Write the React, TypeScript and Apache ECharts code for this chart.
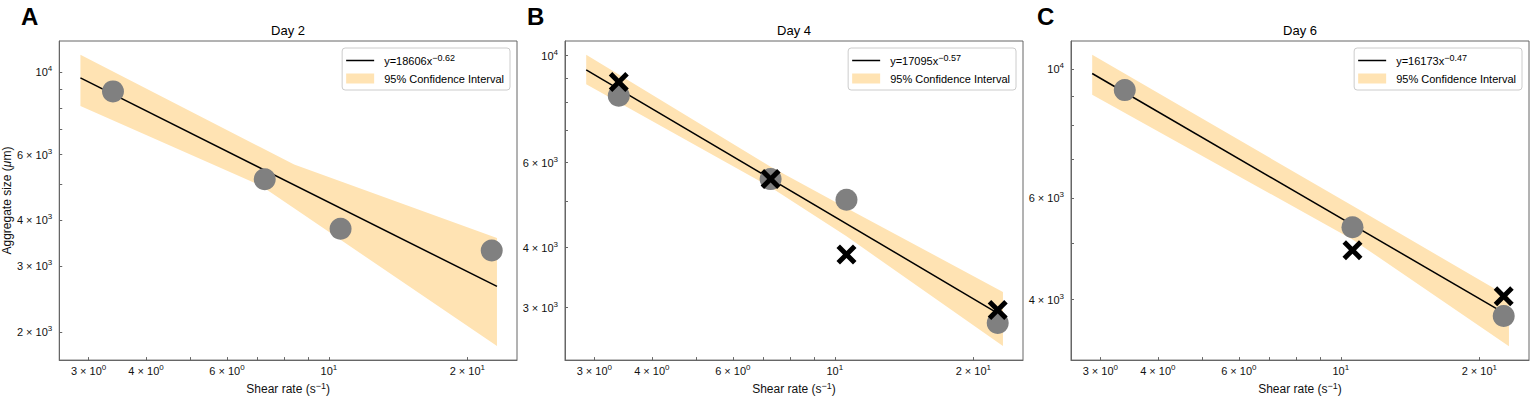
import React, { useEffect, useRef } from "react";
import * as echarts from "echarts";

// ---------- data ----------
const panelLetters = ["A", "B", "C"];
const panelTitles = ["Day 2", "Day 4", "Day 6"];
const fitCoefs = ["18606", "17095", "16173"];
const fitExps = ["−0.62", "−0.57", "−0.47"];
const bandName = "95% Confidence Interval";

// Day 2
const dotXA = [3.39, 7.25, 10.6, 22.6];
const dotYA = [8875, 5152, 3787, 3313];
const crossXA: number[] = [];
const crossYA: number[] = [];
const fitXA = [2.88, 23.2];
const fitYA = [9649, 2650];
const bandXA = [2.88, 7.1, 8.4, 23.2];
const bandUpA = [11137, 6276, 5645, 3577];
const bandLoA = [8102, 4950, 4302, 1832];

// Day 4
const dotXB = [3.39, 7.25, 10.6, 22.6];
const dotYB = [8262, 5546, 5026, 2788];
const crossXB = [3.39, 7.25, 10.6, 22.6];
const crossYB = [8825, 5546, 3870, 2968];
const fitXB = [2.88, 23.2];
const fitYB = [9350, 2880];
const bandXB = [2.88, 7.25, 10.6, 23.2];
const bandUpB = [10046, 5886, 4834, 3234];
const bandLoB = [8728, 5333, 4219, 2500];

// Day 6
const dotXC = [3.39, 10.6, 22.6];
const dotYC = [9211, 5335, 3747];
const crossXC = [10.6, 22.6];
const crossYC = [4870, 4052];
const fitXC = [2.88, 23.2];
const fitYC = [9840, 3750];
const bandXC = [2.88, 10.6, 23.2];
const bandUpC = [10604, 5812, 4041];
const bandLoC = [9045, 5084, 3323];

// axes
const xMin = 2.59;
const xMax = 25.65;
const xTickVals = [3, 4, 5, 6, 7, 8, 9, 10, 20];
const xLabelVals = [3, 4, 6, 10, 20];
const yMins = [1679, 2336, 3144];
const yMaxs = [12128, 10729, 11200];
const yTickVals = [
  [2000, 3000, 4000, 5000, 6000, 7000, 8000, 9000, 10000],
  [3000, 4000, 5000, 6000, 7000, 8000, 9000, 10000],
  [4000, 5000, 6000, 7000, 8000, 9000, 10000],
];
const yLabelVals = [
  [2000, 3000, 4000, 6000, 10000],
  [3000, 4000, 6000, 10000],
  [4000, 6000, 10000],
];

const panels = [
  { dx: dotXA, dy: dotYA, cx: crossXA, cy: crossYA, fx: fitXA, fy: fitYA, bx: bandXA, bu: bandUpA, bl: bandLoA },
  { dx: dotXB, dy: dotYB, cx: crossXB, cy: crossYB, fx: fitXB, fy: fitYB, bx: bandXB, bu: bandUpB, bl: bandLoB },
  { dx: dotXC, dy: dotYC, cx: crossXC, cy: crossYC, fx: fitXC, fy: fitYC, bx: bandXC, bu: bandUpC, bl: bandLoC },
];

// ---------- style ----------
const W = 1530;
const H = 400;
const gridLefts = [59, 565, 1071];
const gridW = 458;
const gridTop = 41;
const gridH = 325;
const FONT = "'Liberation Sans', Arial, Helvetica, sans-serif";
const bandColor = "#FFE3B3";
const frameColor = "#666666";
const crossPath =
  "path://M0,3.5L3.5,0L10,6.5L16.5,0L20,3.5L13.5,10L20,16.5L16.5,20L10,13.5L3.5,20L0,16.5L6.5,10Z";

function fmtTick(v: number): string {
  const e = Math.floor(Math.log10(v) + 1e-9);
  const m = Math.round(v / Math.pow(10, e));
  return m === 1 ? "{b|10}{s|" + e + "}" : "{b|" + m + " × 10}{s|" + e + "}";
}

const tickRich = {
  b: { fontSize: 11, fontFamily: FONT, color: "#111", lineHeight: 15 },
  s: { fontSize: 8, fontFamily: FONT, color: "#111", verticalAlign: "top", lineHeight: 8 },
};

const nameRich = {
  n: { fontSize: 12, fontFamily: FONT, color: "#111", lineHeight: 16 },
  s: { fontSize: 9, fontFamily: FONT, color: "#111", verticalAlign: "top", lineHeight: 9 },
  i: { fontSize: 12, fontFamily: FONT, color: "#111", fontStyle: "italic", lineHeight: 16 },
};

function buildOption() {
  const grid: any[] = [];
  const xAxis: any[] = [];
  const yAxis: any[] = [];
  const series: any[] = [];
  const legend: any[] = [];
  const title: any[] = [];
  const graphic: any[] = [];

  panels.forEach((p, i) => {
    const left = gridLefts[i];
    grid.push({
      left,
      top: gridTop,
      width: gridW,
      height: gridH,
      show: true,
      borderColor: frameColor,
      borderWidth: 1,
      backgroundColor: "transparent",
    });
    xAxis.push({
      type: "log",
      logBase: 10,
      gridIndex: i,
      min: xMin,
      max: xMax,
      axisLine: { show: true, lineStyle: { color: frameColor, width: 1 } },
      axisTick: {
        show: true,
        inside: true,
        length: 3,
        customValues: xTickVals,
        lineStyle: { color: frameColor },
      },
      axisLabel: {
        customValues: xLabelVals,
        formatter: fmtTick,
        margin: 3,
        rich: tickRich,
      },
      splitLine: { show: false },
      name: "{n|Shear rate (s}{s|−1}{n|)}",
      nameLocation: "middle",
      nameGap: 19,
      nameTextStyle: { fontSize: 12, color: "#111", fontFamily: FONT, rich: nameRich },
    });
    yAxis.push({
      type: "log",
      logBase: 10,
      gridIndex: i,
      min: yMins[i],
      max: yMaxs[i],
      axisLine: { show: true, lineStyle: { color: frameColor, width: 1 } },
      axisTick: {
        show: true,
        inside: true,
        length: 3,
        customValues: yTickVals[i],
        lineStyle: { color: frameColor },
      },
      axisLabel: {
        customValues: yLabelVals[i],
        formatter: fmtTick,
        margin: 7,
        rich: tickRich,
      },
      splitLine: { show: false },
      name: i === 0 ? "{n|Aggregate size (}{i|μ}{n|m)}" : "",
      nameLocation: "middle",
      nameGap: 38,
      nameTextStyle: { fontSize: 12, color: "#111", fontFamily: FONT, rich: nameRich },
    });

    const fitName = "y=" + fitCoefs[i] + "x" + fitExps[i];

    series.push({
      type: "custom",
      name: bandName,
      xAxisIndex: i,
      yAxisIndex: i,
      silent: true,
      z: 1,
      clip: true,
      itemStyle: { color: bandColor },
      encode: { x: 0, y: [1, 2] },
      data: p.bx.map((x, k) => [x, p.bu[k], p.bl[k]]),
      renderItem: (params: any, api: any) => {
        if (params.dataIndex !== 0) return null;
        const pts: number[][] = [];
        for (let k = 0; k < p.bx.length; k++) pts.push(api.coord([p.bx[k], p.bu[k]]));
        for (let k = p.bx.length - 1; k >= 0; k--) pts.push(api.coord([p.bx[k], p.bl[k]]));
        return {
          type: "polygon",
          shape: { points: pts },
          style: { fill: bandColor, stroke: "none" },
        };
      },
    });
    series.push({
      type: "line",
      name: fitName,
      xAxisIndex: i,
      yAxisIndex: i,
      z: 2,
      showSymbol: false,
      symbol: "none",
      silent: true,
      itemStyle: { color: "#000" },
      lineStyle: { color: "#000", width: 1.5 },
      data: p.fx.map((x, k) => [x, p.fy[k]]),
    });
    series.push({
      type: "scatter",
      name: "dots" + i,
      xAxisIndex: i,
      yAxisIndex: i,
      z: 3,
      symbol: "circle",
      symbolSize: 22,
      silent: true,
      itemStyle: { color: "#808080", opacity: 1 },
      data: p.dx.map((x, k) => [x, p.dy[k]]),
    });
    if (p.cx.length) {
      series.push({
        type: "scatter",
        name: "crosses" + i,
        xAxisIndex: i,
        yAxisIndex: i,
        z: 4,
        symbol: crossPath,
        symbolSize: 20,
        symbolKeepAspect: true,
        silent: true,
        itemStyle: { color: "#000", opacity: 1 },
        data: p.cx.map((x, k) => [x, p.cy[k]]),
      });
    }

    legend.push({
      orient: "vertical",
      right: W - (left + gridW - 7),
      top: 48,
      selectedMode: false,
      data: [
        { name: fitName, icon: "path://M0,0L28,0L28,1.5L0,1.5Z" },
        { name: bandName, icon: "rect" },
      ],
      itemWidth: 28,
      itemHeight: 10,
      itemGap: 7,
      padding: [5, 6, 6, 4],
      borderColor: "#cccccc",
      borderWidth: 1,
      borderRadius: 3,
      backgroundColor: "#ffffff",
      textStyle: {
        fontSize: 11,
        color: "#000",
        fontFamily: FONT,
        rich: {
          m: { fontSize: 11, fontFamily: FONT, color: "#000", padding: [0, 0, 0, 5], lineHeight: 15 },
          s: { fontSize: 9, fontFamily: FONT, color: "#000", verticalAlign: "top", lineHeight: 9 },
        },
      },
      formatter: (name: string) => {
        if (name === bandName) return "{m|" + name + "}";
        return "{m|y=" + fitCoefs[i] + "x}{s|" + fitExps[i] + "}";
      },
    });

    title.push({
      text: panelTitles[i],
      left: left + gridW / 2,
      textAlign: "center",
      top: 24,
      padding: 0,
      textStyle: { fontSize: 13, fontWeight: "normal", color: "#000", fontFamily: FONT },
    });
  });

  const letterX = [21, 527, 1037];
  letterX.forEach((x, i) => {
    graphic.push({
      type: "text",
      left: x,
      top: 4,
      style: {
        text: panelLetters[i],
        fontSize: 24,
        fontWeight: "bold",
        fontFamily: FONT,
        fill: "#000",
      },
    });
  });

  return {
    animation: false,
    backgroundColor: "#ffffff",
    title,
    grid,
    xAxis,
    yAxis,
    legend,
    series,
    graphic,
  };
}

export default function App() {
  const ref = useRef<HTMLDivElement>(null);
  useEffect(() => {
    if (!ref.current) return;
    const chart = echarts.init(ref.current, undefined, { renderer: "svg", width: W, height: H });
    chart.setOption(buildOption() as any);
    return () => chart.dispose();
  }, []);
  return (
    <div
      ref={ref}
      style={{ position: "absolute", left: 0, top: 0, width: W, height: H, background: "#fff" }}
    />
  );
}
